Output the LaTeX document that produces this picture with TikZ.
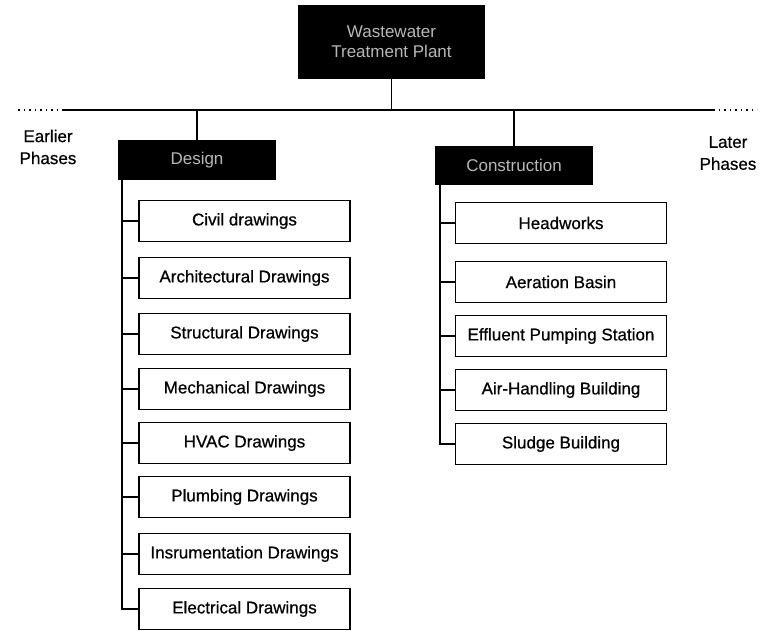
\documentclass[tikz,border=0pt]{standalone}
\usepackage{fontspec}
\setmainfont{Liberation Sans}
\newfontfamily\heavyfont[FakeBold=0.6]{Liberation Sans}
\begin{document}
\begin{tikzpicture}[x=1pt,y=-1pt,
  every node/.style={font=\fontsize{17}{20}\selectfont},
  darkbox/.style={fill=black, text=white!72!black, inner sep=0pt, align=center},
  itembox/.style={draw, line width=1.3pt, fill=white, minimum width=211pt,
                  minimum height=41pt, inner sep=0pt,
                  font=\heavyfont\fontsize{17}{20}\selectfont},
  link/.style={line width=1.4pt},
  dots/.style={line width=1.2pt, dash pattern=on 1.5pt off 4pt},
  phase/.style={align=center, font=\heavyfont\fontsize{17}{22}\selectfont}]
\useasboundingbox (0,0) rectangle (760,630);

% top of the hierarchy
\node[darkbox, minimum width=187pt, minimum height=74pt] (plant) at (391.5,42)
  {Wastewater\\Treatment Plant};

% phase line
\coordinate (hL) at (63,110);
\coordinate (hR) at (713,110);
\coordinate (dL) at (18,110);
\coordinate (dR) at (757,110);
\draw[link] (hL) -- (hR);
\draw[dots] (dL) -- (hL);
\draw[dots] (hR) -- (dR);

\node[phase] (earlier) at (48,147) {Earlier\\Phases};
\node[phase] (later) at (728,153) {Later\\Phases};

% phase heads
\node[darkbox, minimum width=158pt, minimum height=40pt] (design) at (197,160) {Design};
\node[darkbox, minimum width=158pt, minimum height=39pt] (constr) at (514,165.5) {Construction};

\draw[link] (plant.south) -- (plant.south |- hL);
\draw[link] (design.north) -- (design.north |- hL);
\draw[link] (constr.north) -- (constr.north |- hL);

% design deliverables
\node[itembox] (civil) at (244.5,221) {Civil drawings};
\node[itembox] (arch)  at (244.5,278) {Architectural Drawings};
\node[itembox] (struc) at (244.5,334) {Structural Drawings};
\node[itembox] (mech)  at (244.5,389) {Mechanical Drawings};
\node[itembox] (hvac)  at (244.5,443) {HVAC Drawings};
\node[itembox] (plumb) at (244.5,497) {Plumbing Drawings};
\node[itembox] (instr) at (244.5,554) {Insrumentation Drawings};
\node[itembox] (elec)  at (244.5,609) {Electrical Drawings};

\coordinate (dtrunk) at ([xshift=4pt]design.south west);
\draw[link] (dtrunk) |- (elec.west);
\foreach \n in {civil,arch,struc,mech,hvac,plumb,instr}
  \draw[link] (\n.west) -- (\n.west -| dtrunk);

% construction facilities
\node[itembox] (head)   at (561,223) {Headworks};
\node[itembox] (aer)    at (561,282) {Aeration Basin};
\node[itembox] (eff)    at (561,336) {Effluent Pumping Station};
\node[itembox] (air)    at (561,390) {Air-Handling Building};
\node[itembox] (sludge) at (561,444) {Sludge Building};

\coordinate (ctrunk) at ([xshift=5pt]constr.south west);
\draw[link] (ctrunk) |- (sludge.west);
\foreach \n in {head,aer,eff,air}
  \draw[link] (\n.west) -- (\n.west -| ctrunk);
\end{tikzpicture}
\end{document}
